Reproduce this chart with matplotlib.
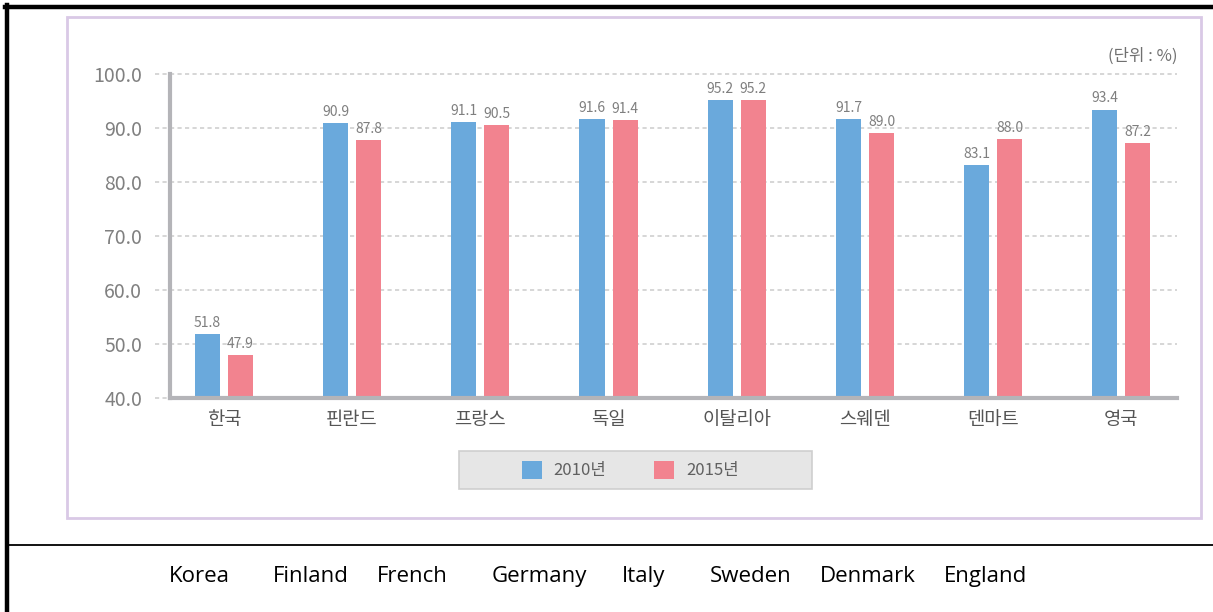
import numpy as np
import matplotlib
matplotlib.use("Agg")
import matplotlib.pyplot as plt
from matplotlib.lines import Line2D
from matplotlib.patches import Rectangle

W, H = 1213, 612

countries_ko = ["한국", "핀란드", "프랑스", "독일", "이탈리아", "스웨덴", "덴마트", "영국"]
countries_en = ["Korea", "Finland", "French", "Germany", "Italy", "Sweden", "Denmark", "England"]
en_centers = [199, 311, 412, 539, 644, 751, 868, 986]
vals_2010 = [51.8, 90.9, 91.1, 91.6, 95.2, 91.7, 83.1, 93.4]
vals_2015 = [47.9, 87.8, 90.5, 91.4, 95.2, 89.0, 88.0, 87.2]
yticks = [40, 50, 60, 70, 80, 90, 100]
series = ["2010년", "2015년"]

blue = "#6aa9dc"
pink = "#f2838f"
kfont = ["Noto Sans CJK KR", "DejaVu Sans"]

plt.rcParams["font.family"] = kfont

fig = plt.figure(figsize=(W / 100, H / 100), dpi=100)


def fx(px):
    return px / W


def fy(py):
    return 1 - py / H


# outer black border and separator
fig.add_artist(Line2D([fx(5), fx(W)], [fy(7), fy(7)], color="black", lw=3.2))
fig.add_artist(Line2D([fx(7), fx(7)], [fy(5), fy(H)], color="black", lw=3.2))
fig.add_artist(Line2D([fx(7), fx(W)], [fy(545), fy(545)], color="black", lw=1.3))

# light purple chart frame
fig.add_artist(Rectangle((fx(67), fy(518)), fx(1201) - fx(67), fy(17) - fy(518),
                         fill=False, edgecolor="#d9c9e6", lw=2))

ax = fig.add_axes([fx(170), fy(398), fx(1177) - fx(170), fy(74) - fy(398)])
x = np.arange(len(countries_ko))
off = 0.129
bw = 0.196
b1 = ax.bar(x - off, vals_2010, bw, color=blue, label=series[0], zorder=3)
b2 = ax.bar(x + off, vals_2015, bw, color=pink, label=series[1], zorder=3)

for bars, vals in ((b1, vals_2010), (b2, vals_2015)):
    for r, v in zip(bars, vals):
        ax.annotate(f"{v:.1f}", (r.get_x() + r.get_width() / 2, v), xytext=(0, 3),
                    textcoords="offset points", ha="center", va="bottom",
                    fontsize=10, color="#7f7f7f")

ax.set_xlim(-0.421, 7.434)
ax.set_ylim(40, 100)
ax.set_yticks(yticks)
ax.set_yticklabels([f"{t:.1f}" for t in yticks], fontsize=14, color="#808080")
ax.set_xticks(x)
ax.set_xticklabels(countries_ko, fontsize=13.5, color="#555555")
ax.tick_params(axis="y", length=0, pad=20)
ax.tick_params(axis="x", length=0, pad=8)

# dotted gridlines, stretching a bit left of the axis line
tr = ax.get_yaxis_transform()
for t in yticks:
    x0 = -0.015
    x1 = 1.0 if t > 40 else 0.0
    ax.plot([x0, x1], [t, t], transform=tr, color="#cfcfcf", lw=1.2,
            ls=(0, (2.5, 2)), clip_on=False, zorder=1)

for s in ["top", "right"]:
    ax.spines[s].set_visible(False)
for s in ["left", "bottom"]:
    ax.spines[s].set_color("#b4b4b8")
    ax.spines[s].set_linewidth(3)
    ax.spines[s].set_zorder(4)

fig.text(fx(1177), fy(56), "(단위 : %)", ha="right", va="center",
         fontsize=12, color="#707070")

# legend box
fig.add_artist(Rectangle((fx(459), fy(489)), fx(812) - fx(459), fy(451) - fy(489),
                         facecolor="#e6e6e6", edgecolor="#cfcfcf", lw=1.2))
for sx, tx, c, lab in ((522, 553, blue, series[0]), (654, 686, pink, series[1])):
    fig.add_artist(Rectangle((fx(sx), fy(479)), fx(20), fy(461) - fy(479),
                             facecolor=c, edgecolor="none"))
    fig.text(fx(tx), fy(470), lab, ha="left", va="center", fontsize=12, color="#606060")

# english names under the chart
for cx, name in zip(en_centers, countries_en):
    fig.text(fx(cx), fy(582), name, ha="center", va="baseline",
             fontsize=16, color="black", family=["Open Sans", "DejaVu Sans"])

fig.savefig("out.png", dpi=100)
